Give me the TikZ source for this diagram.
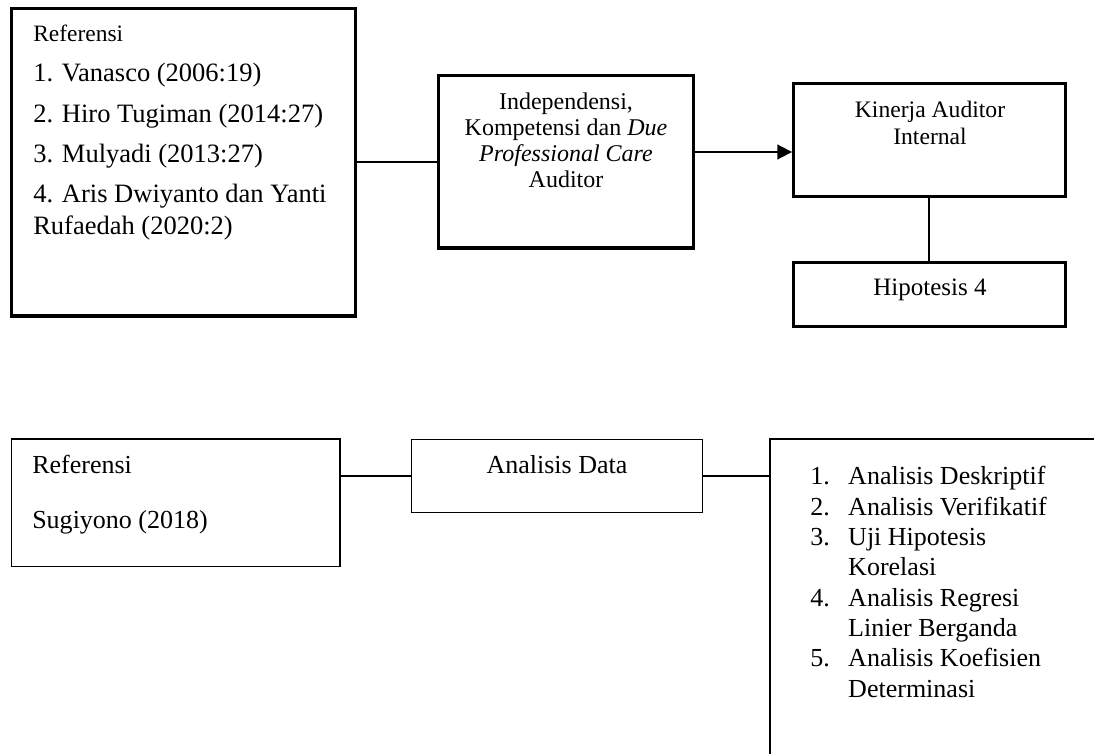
\documentclass[tikz,border=0pt]{standalone}
\usepackage{fontspec}
\setmainfont{Liberation Serif}
\usetikzlibrary{arrows.meta}
\tikzset{
  kotak/.style={draw,line width=2.2pt,inner sep=0pt},
  kotaktipis/.style={draw,line width=0.8pt,inner sep=0pt},
  teks/.style={inner sep=0pt},
  nomor/.style={font=\fontsize{18.5}{21.55}\selectfont,inner sep=0pt,align=left,anchor=base west},
}
\newcommand{\butir}[1]{\makebox[27pt][l]{#1}}
\begin{document}
\begin{tikzpicture}
      \clip (0,0) rectangle (27.35,-18.85);
      \node[kotak,minimum width=8.6cm,minimum height=7.68cm] (ref) at (4.59,-4.06){};
      \node[kotak,minimum width=6.36cm,minimum height=4.32cm] (var) at (14.15,-4.04){};
      \node[kotak,minimum width=6.79cm,minimum height=2.825cm] (kin) at (23.235,-3.51){};
      \node[kotak,minimum width=6.79cm,minimum height=1.6cm] (hip) at (23.235,-7.36){};
      \node[kotaktipis,minimum width=8.21cm,minimum height=3.19cm] (refb) at (4.395,-12.57){};
      \node[kotaktipis,minimum width=7.27cm,minimum height=1.84cm] (ana) at (13.925,-11.9){};
      \node[kotaktipis,minimum width=8.5cm,minimum height=8.5cm] (daftar) at (23.5,-15.225){};
      \node[teks,anchor=base west,font=\fontsize{16.7}{20}\selectfont] (judul) at (0.825,-1.05){Referensi};
      \node[teks,anchor=base west,align=left,font=\fontsize{18.85}{22.8}\selectfont] (pustaka) at (0.825,-5.875){1. Vanasco (2006:19)\\[5.9pt]
        2. Hiro Tugiman (2014:27)\\[5.9pt] 3. Mulyadi (2013:27)\\[5.9pt] 4. Aris Dwiyanto dan Yanti\\ Rufaedah (2020:2)};
      \node[teks,anchor=base,align=center,font=\fontsize{17.07}{18.5}\selectfont] (varteks) at (14.15,-4.7){Independensi,\\
        Kompetensi dan \textit{Due}\\ \textit{Professional Care}\\ Auditor};
      \node[teks,anchor=base,align=center,font=\fontsize{16.8}{19.2}\selectfont] (kinteks) at (23.25,-3.6){Kinerja Auditor\\ Internal};
      \node[teks,anchor=base,font=\fontsize{17.8}{20}\selectfont] (hipteks) at (23.25,-7.375){Hipotesis 4};
      \node[teks,anchor=base west,align=left,font=\fontsize{18.5}{39.1}\selectfont] (refbteks) at (0.8,-13.2){Referensi\\ Sugiyono (2018)};
      \node[teks,anchor=base,font=\fontsize{18.5}{21}\selectfont] (anateks) at (13.925,-11.825){Analisis Data};
      \node[nomor] (daftarteks) at (20.25,-17.425){\butir{1.}Analisis Deskriptif\\ \butir{2.}Analisis Verifikatif\\
        \butir{3.}Uji Hipotesis\\ \butir{}Korelasi\\ \butir{4.}Analisis Regresi\\ \butir{}Linier Berganda\\
        \butir{5.}Analisis Koefisien\\ \butir{}Determinasi};
      \draw[line width=1.3pt](ref.east)--(ref.east -| var.west);
      \draw[line width=1.3pt,-{Triangle[length=10.5pt,width=10.5pt]}]([yshift=0.24cm]var.east)--([yshift=0.24cm]var.east -| kin.west);
      \draw[line width=1.3pt](kin.south)--(hip.north);
      \draw[line width=0.8pt](refb.east |- ana.west)--(ana.west);
      \draw[line width=0.8pt](ana.east)--(ana.east -| daftar.west);
    \end{tikzpicture}
\end{document}
